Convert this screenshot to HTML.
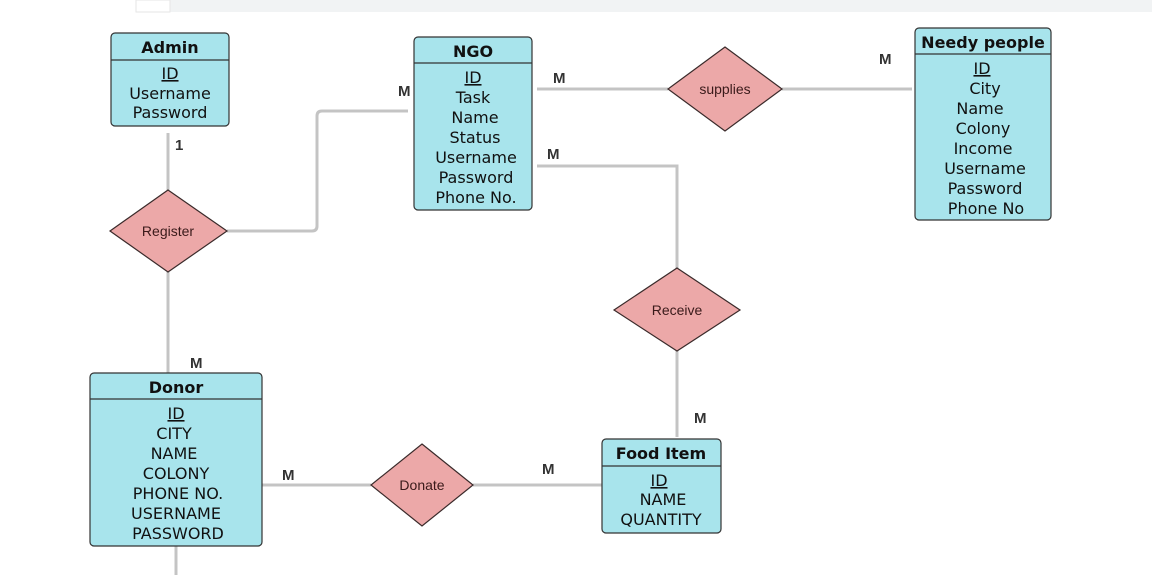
<!DOCTYPE html>
<html><head><meta charset="utf-8"><style>
html,body{margin:0;padding:0;background:#fff;width:1152px;height:575px;overflow:hidden}
svg{display:block}
.t{font-family:"DejaVu Sans","Liberation Sans",sans-serif;font-size:16px;fill:#111;text-anchor:middle}
.h{font-weight:bold}
.r{font-family:"Liberation Sans",sans-serif;font-size:14px;fill:#3a1a1a;text-anchor:middle}
.m{font-family:"Liberation Sans",sans-serif;font-size:15px;font-weight:bold;fill:#333}
.ln{stroke:#c4c4c4;stroke-width:3;fill:none}
.box{fill:#a8e4ec;stroke:#333;stroke-width:1.2}
.dia{fill:#eca8a8;stroke:#3a2a2a;stroke-width:1.2}
</style></head><body>
<svg width="1152" height="575" viewBox="0 0 1152 575">
<rect x="170" y="0" width="982" height="12" fill="#f1f3f4"/>
<rect x="136" y="0" width="34" height="12" fill="#fff" stroke="#e6e6e6"/>
<!-- lines -->
<path class="ln" d="M168 133 V190"/>
<path class="ln" d="M168 272 V373"/>
<path class="ln" d="M227 231 H312 Q317 231 317 226 V116 Q317 111 322 111 H408"/>
<path class="ln" d="M537 89 H668"/>
<path class="ln" d="M782 89 H912"/>
<path class="ln" d="M537 166 H677 V268"/>
<path class="ln" d="M677 351 V437"/>
<path class="ln" d="M262 485 H371"/>
<path class="ln" d="M473 485 H602"/>
<path class="ln" d="M176 546 V575"/>
<!-- Admin -->
<rect class="box" x="111" y="33" width="118" height="93" rx="4"/>
<line x1="111" y1="60" x2="229" y2="60" stroke="#333" stroke-width="1.2"/>
<text class="t h" x="170" y="53">Admin</text>
<text class="t" x="170" y="79" text-decoration="underline">ID</text>
<text class="t" x="170" y="99">Username</text>
<text class="t" x="170" y="118">Password</text>
<!-- NGO -->
<rect class="box" x="414" y="37" width="118" height="173" rx="4"/>
<line x1="414" y1="63" x2="532" y2="63" stroke="#333" stroke-width="1.2"/>
<text class="t h" x="473" y="57">NGO</text>
<text class="t" x="473" y="83" text-decoration="underline">ID</text>
<text class="t" x="473" y="103">Task</text>
<text class="t" x="475" y="123">Name</text>
<text class="t" x="475" y="143">Status</text>
<text class="t" x="476" y="163">Username</text>
<text class="t" x="476" y="183">Password</text>
<text class="t" x="476" y="203">Phone No.</text>
<!-- Needy -->
<rect class="box" x="915" y="28" width="136" height="192" rx="4"/>
<line x1="915" y1="54" x2="1051" y2="54" stroke="#333" stroke-width="1.2"/>
<text class="t h" x="983" y="48">Needy people</text>
<text class="t" x="982" y="74" text-decoration="underline">ID </text>
<text class="t" x="985" y="94">City</text>
<text class="t" x="980" y="114">Name</text>
<text class="t" x="983" y="134">Colony</text>
<text class="t" x="983" y="154">Income</text>
<text class="t" x="985" y="174">Username</text>
<text class="t" x="985" y="194">Password</text>
<text class="t" x="986" y="214">Phone No</text>
<!-- Donor -->
<rect class="box" x="90" y="373" width="172" height="173" rx="4"/>
<line x1="90" y1="399" x2="262" y2="399" stroke="#333" stroke-width="1.2"/>
<text class="t h" x="176" y="393">Donor</text>
<text class="t" x="176" y="419" text-decoration="underline">ID</text>
<text class="t" x="174" y="439">CITY</text>
<text class="t" x="174" y="459">NAME</text>
<text class="t" x="176" y="479">COLONY</text>
<text class="t" x="178" y="499">PHONE NO.</text>
<text class="t" x="176" y="519">USERNAME</text>
<text class="t" x="178" y="539">PASSWORD</text>
<!-- Food -->
<rect class="box" x="602" y="439" width="119" height="94" rx="4"/>
<line x1="602" y1="466" x2="721" y2="466" stroke="#333" stroke-width="1.2"/>
<text class="t h" x="661" y="459">Food Item</text>
<text class="t" x="659" y="486" text-decoration="underline">ID </text>
<text class="t" x="663" y="505">NAME</text>
<text class="t" x="661" y="525">QUANTITY</text>
<!-- diamonds -->
<polygon class="dia" points="168,190 227,231 168,272 110,231"/>
<text class="r" x="168" y="236">Register</text>
<polygon class="dia" points="725,47 782,89 725,131 668,89"/>
<text class="r" x="725" y="94">supplies</text>
<polygon class="dia" points="677,268 740,310 677,351 614,310"/>
<text class="r" x="677" y="315">Receive</text>
<polygon class="dia" points="422,444 473,485 422,526 371,485"/>
<text class="r" x="422" y="490">Donate</text>
<!-- labels -->
<text class="m" x="175" y="150">1</text>
<text class="m" x="398" y="96">M</text>
<text class="m" x="553" y="83">M</text>
<text class="m" x="547" y="159">M</text>
<text class="m" x="879" y="64">M</text>
<text class="m" x="190" y="368">M</text>
<text class="m" x="694" y="423">M</text>
<text class="m" x="282" y="480">M</text>
<text class="m" x="542" y="474">M</text>
</svg>
</body></html>
